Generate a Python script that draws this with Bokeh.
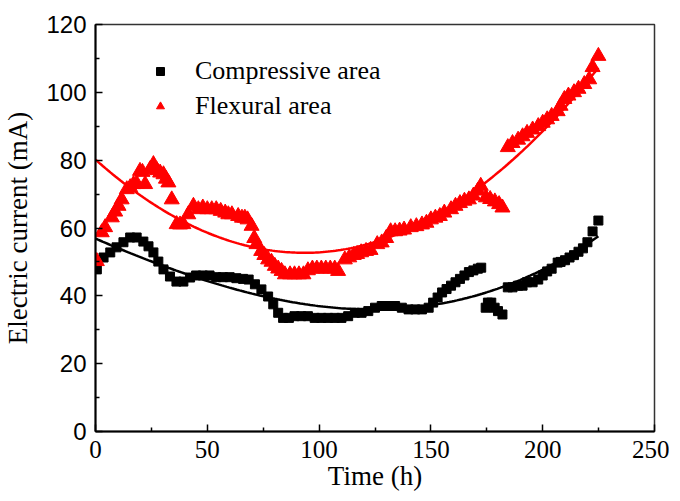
import numpy as np
from bokeh.plotting import figure
from bokeh.models import Range1d, FixedTicker, Legend, LegendItem
from bokeh.embed import file_html
from bokeh.resources import INLINE

# ---------------- data ----------------
comp_x = [0.6, 3.6, 6.6, 9.4, 12.5, 15.5, 18.4, 21.4, 23.7, 25.9, 28.1, 30.4, 33.3, 36.2, 39.3,
          42.3, 45, 48, 51, 54, 57, 60, 63, 66, 68.5, 71.3, 74.2, 77.2, 79.5, 81.7, 83.9, 86.5,
          89, 92, 95, 98, 101, 104, 107, 110, 113, 116, 119, 122, 125, 128, 131, 134, 137, 140,
          143, 146, 149, 151, 153, 155, 157, 159, 161, 163, 165, 167, 169, 171, 172.5,
          174.5, 175.5, 177, 178.5, 180, 182,
          184.4, 186.5, 189, 191, 193, 195.5, 198, 200, 202, 204, 206.7, 208, 210, 212, 214,
          216, 218, 220, 222.3, 224.9]
comp_y = [47.8, 51.3, 52.8, 54.3, 55.8, 57.2, 57.2, 56.0, 54.6, 52.8, 50.1, 47.8, 45.7, 44.2, 44.2,
          45.4, 46.0, 46.0, 46.0, 45.5, 45.5, 45.5, 45.2, 45.0, 44.8, 43.4, 41.9, 39.8, 37.5, 35.0, 33.5, 33.5,
          34.0, 34.0, 34.0, 33.5, 33.5, 33.5, 33.5, 33.5, 34.0, 35.0, 35.0, 35.5, 36.5, 37.0, 37.0, 37.0, 36.5, 36.0,
          36.0, 36.0, 36.5, 38.0, 39.5, 41.0, 42.0, 43.0, 44.0, 45.0, 46.0, 47.0, 47.5, 48.0, 48.3,
          36.5, 38.0, 38.0, 36.5, 35.5, 34.5,
          42.5, 42.5, 43.0, 43.0, 44.0, 44.0, 44.8, 46.0, 47.2, 48.0, 49.8, 50.0, 50.5, 51.3, 52.0,
          53.0, 54.0, 55.8, 59.0, 62.2]

flex_x = [0.6, 2.8, 4.3, 7.3, 8.8, 10.3, 11.7, 14, 15.5, 17, 18.5, 19.9, 21, 22.2, 24.4, 25.9,
          27.5, 28.9, 30.4, 31.5, 32.6, 34.1, 36.3, 37.8, 39.3, 41.5, 43.8, 46, 48, 50, 52, 54,
          56, 58, 59.4, 61, 63.8, 65.5, 66.8, 68, 69.8, 71, 72, 74.1, 75.5, 77.2, 78.7, 80.2,
          81.7, 83.2, 84.7, 87, 89, 91, 93, 95, 97, 99, 101, 103, 105, 107, 108.5, 111.5, 113.5,
          115.5, 117, 118.8, 121, 123, 126, 128, 130, 132, 134, 136, 138, 141, 143.5, 146, 148,
          150, 152, 154, 156, 159, 161, 163, 165, 167, 169, 171, 172.3,
          174.6, 176.5, 178.6, 180.5, 182,
          184.4, 186.5, 189, 191, 193, 195.5, 198, 200, 202, 204, 206.7, 208, 209.7, 211.5, 214,
          216, 218.6, 220.8, 222.3, 224.9]
flex_y = [50.2, 58.7, 60.2, 63.1, 64.8, 66.5, 68.4, 71.4, 72.0, 72.9, 73.0, 76.8, 76.5, 72.9, 77.3, 78.8,
          77.0, 76.3, 75.8, 74.5, 73.4, 68.4, 61.1, 61.0, 61.1, 64.0, 66.5, 65.5, 66.0, 65.5, 65.5, 65.5,
          65.0, 64.5, 64.0, 64.0, 63.5, 63.0, 63.0, 62.5, 60.6, 57.0, 55.2, 53.2, 52.0, 50.7, 50.0, 48.8,
          48.0, 47.3, 46.3, 46.3, 46.3, 46.3, 46.3, 47.5, 48.0, 48.0, 48.0, 48.0, 48.0, 48.0, 47.3, 50.7, 51.3,
          52.0, 52.3, 52.8, 53.2, 53.5, 55.2, 55.7, 57.0, 59.0, 59.0, 59.2, 59.5, 60.2, 60.5, 61.0, 61.5,
          62.5, 63.0, 63.5, 64.5, 65.5, 66.5, 67.3, 68.0, 68.4, 69.5, 71.0, 72.4,
          69.0, 68.5, 67.8, 67.0, 66.0,
          83.8, 85.0, 86.0, 87.0, 88.0, 89.0, 90.0, 91.0, 92.0, 93.0, 94.4, 96.0, 98.0, 99.0, 100.0,
          101.0, 102.4, 103.8, 107.4, 110.7]

comp_label = "Compressive area"
flex_label = "Flexural area"
comp_fit_degree = 3
flex_fit_degree = 2

x_ticks = [0, 50, 100, 150, 200, 250]
x_minor = [25, 75, 125, 175, 225]
y_ticks = [0, 20, 40, 60, 80, 100, 120]
y_minor = [10, 30, 50, 70, 90, 110]

# ---------------- fits (polynomial fits of the data) ----------------
def fit_curve(xs, ys, deg):
    coef = np.polyfit(xs, ys, deg)
    xx = np.linspace(0, max(xs), 200)
    return xx, np.polyval(coef, xx)

cfx, cfy = fit_curve(comp_x, comp_y, comp_fit_degree)
ffx, ffy = fit_curve(flex_x, flex_y, flex_fit_degree)

# ---------------- figure ----------------
p = figure(width=669, height=500, output_backend="svg", toolbar_location=None,
           x_range=Range1d(0, 250), y_range=Range1d(0, 120),
           min_border_left=94, min_border_right=15, min_border_top=24, min_border_bottom=69)
p.xgrid.visible = False
p.ygrid.visible = False
p.outline_line_color = "#333333"
p.outline_line_width = 1.5
p.background_fill_color = "white"
p.border_fill_color = "white"

sq = p.scatter(comp_x, comp_y, marker="square", size=9, color="black")
p.line(cfx, cfy, line_color="black", line_width=2.5)
tri = p.scatter(flex_x, flex_y, marker="triangle", size=15, color="red")
p.line(ffx, ffy, line_color="red", line_width=2.5)

serif = "Liberation Serif"
sans = "Liberation Sans"

for ax in (p.xaxis[0], p.yaxis[0]):
    ax.axis_line_width = 2
    ax.axis_line_color = "black"
    ax.major_tick_in = 7
    ax.major_tick_out = 0
    ax.minor_tick_in = 4
    ax.minor_tick_out = 0
    ax.major_tick_line_width = 1.5
    ax.minor_tick_line_width = 1.5
    ax.major_tick_line_color = "black"
    ax.minor_tick_line_color = "black"
    ax.major_label_text_color = "black"
    ax.axis_label_text_color = "black"
    ax.axis_label_text_font = serif
    ax.axis_label_text_font_style = "normal"
    ax.axis_label_text_font_size = "27px"

p.xaxis.ticker = FixedTicker(ticks=x_ticks, minor_ticks=x_minor)
p.yaxis.ticker = FixedTicker(ticks=y_ticks, minor_ticks=y_minor)
p.xaxis.major_label_text_font = serif
p.xaxis.major_label_text_font_size = "25px"
p.yaxis.major_label_text_font = sans
p.yaxis.major_label_text_font_size = "24px"
p.xaxis.major_label_standoff = 9
p.yaxis.major_label_standoff = 9
p.xaxis.axis_label = "Time (h)"
p.yaxis.axis_label = "Electric current (mA)"
p.xaxis.axis_label_standoff = 0
p.yaxis.axis_label_standoff = 10

legend = Legend(items=[LegendItem(label=comp_label, renderers=[sq]),
                       LegendItem(label=flex_label, renderers=[tri])],
                location=(55, 310), border_line_color=None, background_fill_alpha=0,
                padding=0, margin=0, spacing=5, glyph_width=20, glyph_height=24,
                label_standoff=25, label_text_font=serif, label_text_font_size="26px",
                label_text_color="black")
p.add_layout(legend)

open("out.html", "w").write(file_html(p, INLINE))
